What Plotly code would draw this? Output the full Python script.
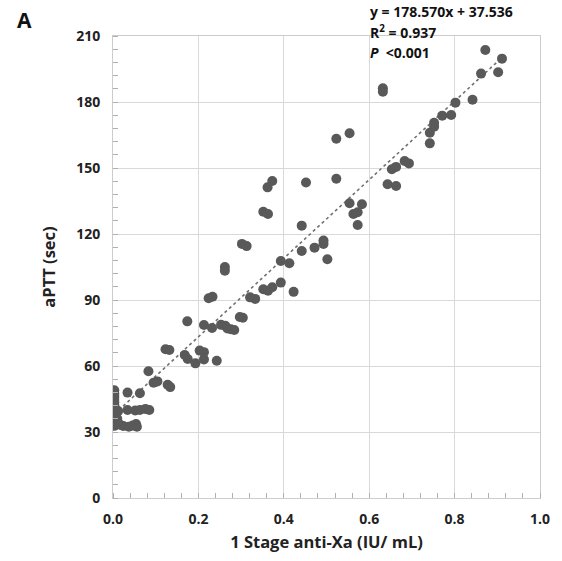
import plotly.graph_objects as go

# 1 Stage anti-Xa (IU/mL) values
anti_xa = [
    0.003, 0.003, 0.003, 0.003, 0.003, 0.003, 0.003, 0.003, 0.005, 0.003,
    0.003, 0.003, 0.003, 0.003, 0.003, 0.005, 0.003, 0.012, 0.008, 0.018,
    0.024, 0.010,
    0.034, 0.063, 0.034, 0.052, 0.063, 0.076, 0.085, 0.037, 0.046, 0.054,
    0.056, 0.083, 0.095, 0.104, 0.128, 0.134, 0.123, 0.132,
    0.174, 0.168, 0.175, 0.193, 0.203, 0.213, 0.213, 0.243, 0.213, 0.232,
    0.253, 0.263, 0.268, 0.276, 0.284, 0.297, 0.304, 0.224, 0.233, 0.262,
    0.262,
    0.302, 0.313, 0.321, 0.333, 0.352, 0.363, 0.362, 0.373, 0.352, 0.363,
    0.373, 0.393, 0.393, 0.413, 0.423, 0.442, 0.442, 0.452,
    0.472, 0.493, 0.493, 0.502, 0.523, 0.523, 0.554, 0.554, 0.563, 0.573,
    0.573, 0.583,
    0.632, 0.632, 0.643, 0.663, 0.653, 0.663, 0.683, 0.693, 0.742, 0.742,
    0.752, 0.752, 0.771, 0.792, 0.802, 0.842, 0.862, 0.872, 0.902, 0.911,
]

# aPTT (sec) values
aptt = [
    49.0, 47.5, 46.5, 45.5, 44.5, 43.5, 42.5, 41.5, 40.5, 39.5,
    38.5, 37.5, 36.5, 35.5, 34.5, 33.5, 32.8, 39.5, 33.6, 33.2,
    32.7, 36.0,
    47.9, 47.6, 40.0, 39.8, 40.0, 40.5, 40.0, 32.4, 32.9, 33.6,
    32.4, 57.6, 52.4, 53.0, 51.5, 50.4, 67.6, 67.3,
    80.3, 65.0, 63.2, 61.2, 67.0, 66.3, 63.0, 62.4, 78.6, 77.3,
    78.7, 78.3, 77.1, 76.7, 76.4, 82.3, 81.9, 90.8, 91.5, 105.0,
    103.3,
    115.5, 114.5, 91.2, 90.5, 130.1, 129.1, 141.2, 144.1, 94.9, 94.2,
    95.8, 97.9, 107.7, 106.7, 93.7, 112.3, 123.8, 143.4,
    113.8, 117.0, 115.5, 108.5, 145.1, 163.3, 165.8, 134.0, 129.1, 129.9,
    124.1, 133.5,
    186.2, 184.7, 142.6, 141.8, 149.4, 150.5, 153.2, 152.1, 161.2, 166.0,
    168.8, 170.6, 173.8, 174.1, 179.7, 181.0, 192.9, 203.6, 193.5, 199.7,
]

slope = 178.570
intercept = 37.536
x_ticks = [0.0, 0.2, 0.4, 0.6, 0.8, 1.0]
x_tick_labels = ["0.0", "0.2", "0.4", "0.6", "0.8", "1.0"]
y_ticks = [0, 30, 60, 90, 120, 150, 180, 210]

trend_x = [min(anti_xa), max(anti_xa)]
trend_y = [slope * v + intercept for v in trend_x]

FONT = "Open Sans"

fig = go.Figure()
fig.add_trace(go.Scatter(
    x=trend_x, y=trend_y, mode="lines",
    line=dict(color="#707070", width=1.6, dash="dot"),
    hoverinfo="skip", showlegend=False,
))
fig.add_trace(go.Scatter(
    x=anti_xa, y=aptt, mode="markers",
    marker=dict(color="#595959", size=10, line=dict(width=0)),
    showlegend=False,
))

axis_common = dict(
    showgrid=True, gridcolor="#d9d9d9", gridwidth=1,
    showline=True, linecolor="#cccccc", linewidth=1, mirror=True,
    zeroline=False, ticks="",
    tickfont=dict(family=FONT, size=14, color="#222222", weight="bold"),
)

fig.update_xaxes(
    range=[0, 1.0], tickvals=x_ticks, ticktext=x_tick_labels,
    minor=dict(ticks="inside", dtick=0.04, tick0=0, ticklen=5, tickcolor="#b0b0b0", showgrid=False),
    title=dict(text="1 Stage anti-Xa (IU/ mL)", font=dict(family=FONT, size=16.5, color="#222222", weight="bold"), standoff=9),
    ticklabelstandoff=8,
    **axis_common,
)
fig.update_yaxes(
    range=[0, 210], tickvals=y_ticks,
    minor=dict(ticks="inside", dtick=6, tick0=0, ticklen=5, tickcolor="#b0b0b0", showgrid=False),
    title=dict(text="aPTT (sec)", font=dict(family=FONT, size=16.5, color="#222222", weight="bold"), standoff=16),
    ticklabelstandoff=9,
    **axis_common,
)

ann_font = dict(family=FONT, size=14, color="#111111")
fig.add_annotation(text="<b>y = 178.570x + 37.536</b>", xref="paper", yref="paper",
                   x=0.597, y=1.052, xanchor="left", yanchor="middle", showarrow=False, font=ann_font)
fig.add_annotation(text="<b>R<sup>2</sup> = 0.937</b>", xref="paper", yref="paper",
                   x=0.597, y=1.008, xanchor="left", yanchor="middle", showarrow=False, font=ann_font)
fig.add_annotation(text="<b><i>P</i>  &lt;0.001</b>", xref="paper", yref="paper",
                   x=0.597, y=0.965, xanchor="left", yanchor="middle", showarrow=False, font=ann_font)
fig.add_annotation(text="<b>A</b>", xref="paper", yref="paper",
                   x=-0.208, y=1.035, xanchor="center", yanchor="middle", showarrow=False,
                   font=dict(family=FONT, size=21, color="#111111"))

fig.update_layout(
    width=562, height=561,
    margin=dict(l=113, r=12, t=36, b=63),
    plot_bgcolor="white", paper_bgcolor="white",
)

fig.write_html("out.html")
